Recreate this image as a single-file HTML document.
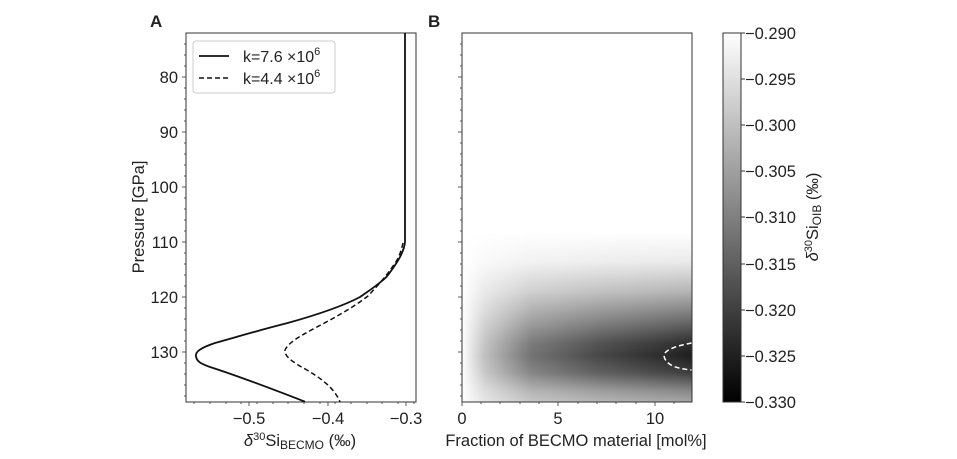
<!DOCTYPE html>
<html><head><meta charset="utf-8"><style>
html,body{margin:0;padding:0;background:#fff;}
text{font-family:"Liberation Sans",sans-serif;fill:#222;}
</style></head><body>
<svg width="957" height="454" viewBox="0 0 957 454" xmlns="http://www.w3.org/2000/svg">
<defs>
<linearGradient id="h" x1="0" x2="1" y1="0" y2="0">
<stop offset="0" stop-color="#000" stop-opacity="0"/>
<stop offset="0.1" stop-color="#000" stop-opacity="0.25"/>
<stop offset="0.3" stop-color="#000" stop-opacity="0.55"/>
<stop offset="0.6" stop-color="#000" stop-opacity="0.72"/>
<stop offset="1" stop-color="#000" stop-opacity="0.88"/>
</linearGradient>
<linearGradient id="v" x1="0" x2="0" y1="0" y2="1">
<stop offset="0" stop-color="#000"/>
<stop offset="0.54" stop-color="#000"/>
<stop offset="0.62" stop-color="#181818"/>
<stop offset="0.7" stop-color="#555"/>
<stop offset="0.78" stop-color="#aaa"/>
<stop offset="0.84" stop-color="#eee"/>
<stop offset="0.875" stop-color="#fff"/>
<stop offset="0.92" stop-color="#ddd"/>
<stop offset="0.97" stop-color="#888"/>
<stop offset="1" stop-color="#666"/>
</linearGradient>
<mask id="m" maskUnits="userSpaceOnUse" x="462" y="33" width="230" height="369">
<rect x="462" y="33" width="230" height="369" fill="url(#v)"/>
</mask>
<linearGradient id="cb" x1="0" x2="0" y1="0" y2="1">
<stop offset="0" stop-color="#fff"/>
<stop offset="1" stop-color="#000"/>
</linearGradient>
<g id="ymin" stroke="#333" stroke-width="0.8">
<line x1="-2" x2="0" y1="44" y2="44"/><line x1="-2" x2="0" y1="55" y2="55"/><line x1="-2" x2="0" y1="66" y2="66"/>
<line x1="-2" x2="0" y1="88" y2="88"/><line x1="-2" x2="0" y1="99" y2="99"/><line x1="-2" x2="0" y1="110" y2="110"/><line x1="-2" x2="0" y1="121" y2="121"/>
<line x1="-2" x2="0" y1="143" y2="143"/><line x1="-2" x2="0" y1="154" y2="154"/><line x1="-2" x2="0" y1="165" y2="165"/><line x1="-2" x2="0" y1="176" y2="176"/>
<line x1="-2" x2="0" y1="198" y2="198"/><line x1="-2" x2="0" y1="209" y2="209"/><line x1="-2" x2="0" y1="220" y2="220"/><line x1="-2" x2="0" y1="231" y2="231"/>
<line x1="-2" x2="0" y1="253" y2="253"/><line x1="-2" x2="0" y1="264" y2="264"/><line x1="-2" x2="0" y1="275" y2="275"/><line x1="-2" x2="0" y1="286" y2="286"/>
<line x1="-2" x2="0" y1="308" y2="308"/><line x1="-2" x2="0" y1="319" y2="319"/><line x1="-2" x2="0" y1="330" y2="330"/><line x1="-2" x2="0" y1="341" y2="341"/>
<line x1="-2" x2="0" y1="363" y2="363"/><line x1="-2" x2="0" y1="374" y2="374"/><line x1="-2" x2="0" y1="385" y2="385"/><line x1="-2" x2="0" y1="396" y2="396"/>
<line x1="-4" x2="0" y1="77" y2="77"/><line x1="-4" x2="0" y1="132" y2="132"/><line x1="-4" x2="0" y1="187" y2="187"/>
<line x1="-4" x2="0" y1="242" y2="242"/><line x1="-4" x2="0" y1="297" y2="297"/><line x1="-4" x2="0" y1="352" y2="352"/>
</g>
</defs>

<!-- Panel A -->
<text x="150" y="27" font-size="17" font-weight="bold">A</text>
<rect x="186" y="33" width="230" height="369" fill="none" stroke="#333" stroke-width="1"/>
<use href="#ymin" x="186"/>
<g stroke="#333" stroke-width="0.8">
<line x1="249" x2="249" y1="402" y2="406"/><line x1="328" x2="328" y1="402" y2="406"/><line x1="406" x2="406" y1="402" y2="406"/>
<line x1="194" x2="194" y1="402" y2="404"/><line x1="210" x2="210" y1="402" y2="404"/><line x1="226" x2="226" y1="402" y2="404"/>
<line x1="241" x2="241" y1="402" y2="404"/><line x1="257" x2="257" y1="402" y2="404"/><line x1="273" x2="273" y1="402" y2="404"/>
<line x1="288" x2="288" y1="402" y2="404"/><line x1="304" x2="304" y1="402" y2="404"/><line x1="320" x2="320" y1="402" y2="404"/>
<line x1="335" x2="335" y1="402" y2="404"/><line x1="351" x2="351" y1="402" y2="404"/><line x1="367" x2="367" y1="402" y2="404"/>
<line x1="382" x2="382" y1="402" y2="404"/><line x1="398" x2="398" y1="402" y2="404"/><line x1="414" x2="414" y1="402" y2="404"/>
</g>
<g font-size="16.5" text-anchor="end">
<text x="178" y="83">80</text><text x="178" y="138">90</text><text x="178" y="193">100</text>
<text x="178" y="248">110</text><text x="178" y="303">120</text><text x="178" y="358">130</text>
</g>
<g font-size="16.5" text-anchor="middle">
<text x="249" y="424">−0.5</text><text x="328" y="424">−0.4</text><text x="406" y="424">−0.3</text>
</g>
<text x="300" y="446" font-size="16.5" text-anchor="middle"><tspan font-style="italic">δ</tspan><tspan font-size="11" dy="-6">30</tspan><tspan dy="6">Si</tspan><tspan font-size="12" dy="3">BECMO</tspan><tspan dy="-3"> (‰)</tspan></text>
<text transform="translate(144 217) rotate(-90)" font-size="16.5" text-anchor="middle">Pressure [GPa]</text>

<path fill="none" stroke="#111" stroke-width="1.8" stroke-linejoin="round" d="M405,33 L405,242 C404,252 398,262 386.7,276.7 C378,285 370,290 360,297 C345,305 320,314 286.7,323.3 C260,330 240,336 215,343 C200,348 195,352 196,356.7 C197,362 202,364 210,367 C235,375 262,385 305,401.7"/>
<path fill="none" stroke="#111" stroke-width="1.5" stroke-dasharray="5,3" d="M403,243 C401,252 398,260 393,266 C387,275 380,283 368,296 C355,306 340,315 315,328 C300,336 288,343 285,350 C284,356 292,362 307,370 C322,379 334,388 340,401.7"/>

<rect x="193" y="41" width="142" height="52" fill="#fff" stroke="#ccc" rx="3"/>
<line x1="199" x2="229" y1="56" y2="56" stroke="#111" stroke-width="1.8"/>
<line x1="199" x2="229" y1="78" y2="78" stroke="#111" stroke-width="1.5" stroke-dasharray="5,3"/>
<text x="243" y="62" font-size="16">k=7.6 ×10<tspan font-size="11" dy="-7">6</tspan></text>
<text x="243" y="84" font-size="16">k=4.4 ×10<tspan font-size="11" dy="-7">6</tspan></text>

<!-- Panel B -->
<text x="428" y="27" font-size="17" font-weight="bold">B</text>
<rect x="462" y="33" width="230" height="369" fill="#fff"/>
<rect x="462" y="33" width="230" height="369" fill="url(#h)" mask="url(#m)"/>
<path d="M691.7,343 Q664,348 664,356 Q666,368 691.7,370" fill="none" stroke="#fff" stroke-width="1.5" stroke-dasharray="5,3"/>
<rect x="462" y="33" width="230" height="369" fill="none" stroke="#333" stroke-width="1"/>
<use href="#ymin" x="462"/>
<g stroke="#333" stroke-width="0.8">
<line x1="462" x2="462" y1="402" y2="406"/><line x1="558" x2="558" y1="402" y2="406"/><line x1="655" x2="655" y1="402" y2="406"/>
<line x1="481" x2="481" y1="402" y2="404"/><line x1="500" x2="500" y1="402" y2="404"/><line x1="520" x2="520" y1="402" y2="404"/><line x1="539" x2="539" y1="402" y2="404"/>
<line x1="578" x2="578" y1="402" y2="404"/><line x1="597" x2="597" y1="402" y2="404"/><line x1="616" x2="616" y1="402" y2="404"/><line x1="636" x2="636" y1="402" y2="404"/>
<line x1="674" x2="674" y1="402" y2="404"/>
</g>
<g font-size="16.5" text-anchor="middle">
<text x="462" y="424">0</text><text x="558" y="424">5</text><text x="655" y="424">10</text>
</g>
<text x="576" y="446" font-size="16.5" text-anchor="middle">Fraction of BECMO material [mol%]</text>

<!-- Colorbar -->
<rect x="723" y="33" width="18" height="369" fill="url(#cb)" stroke="#333" stroke-width="1"/>
<g stroke="#333" stroke-width="1">
<line x1="741" x2="745" y1="33" y2="33"/><line x1="741" x2="745" y1="79" y2="79"/><line x1="741" x2="745" y1="125" y2="125"/>
<line x1="741" x2="745" y1="171" y2="171"/><line x1="741" x2="745" y1="217" y2="217"/><line x1="741" x2="745" y1="264" y2="264"/>
<line x1="741" x2="745" y1="310" y2="310"/><line x1="741" x2="745" y1="356" y2="356"/><line x1="741" x2="745" y1="402" y2="402"/>
</g>
<g font-size="16.5">
<text x="745" y="39">−0.290</text><text x="745" y="85">−0.295</text><text x="745" y="131">−0.300</text>
<text x="745" y="177">−0.305</text><text x="745" y="223">−0.310</text><text x="745" y="270">−0.315</text>
<text x="745" y="316">−0.320</text><text x="745" y="362">−0.325</text><text x="745" y="408">−0.330</text>
</g>
<text transform="translate(818 217) rotate(-90)" font-size="16.5" text-anchor="middle"><tspan font-style="italic">δ</tspan><tspan font-size="11" dy="-6">30</tspan><tspan dy="6">Si</tspan><tspan font-size="12" dy="3">OIB</tspan><tspan dy="-3"> (‰)</tspan></text>
</svg>
</body></html>
